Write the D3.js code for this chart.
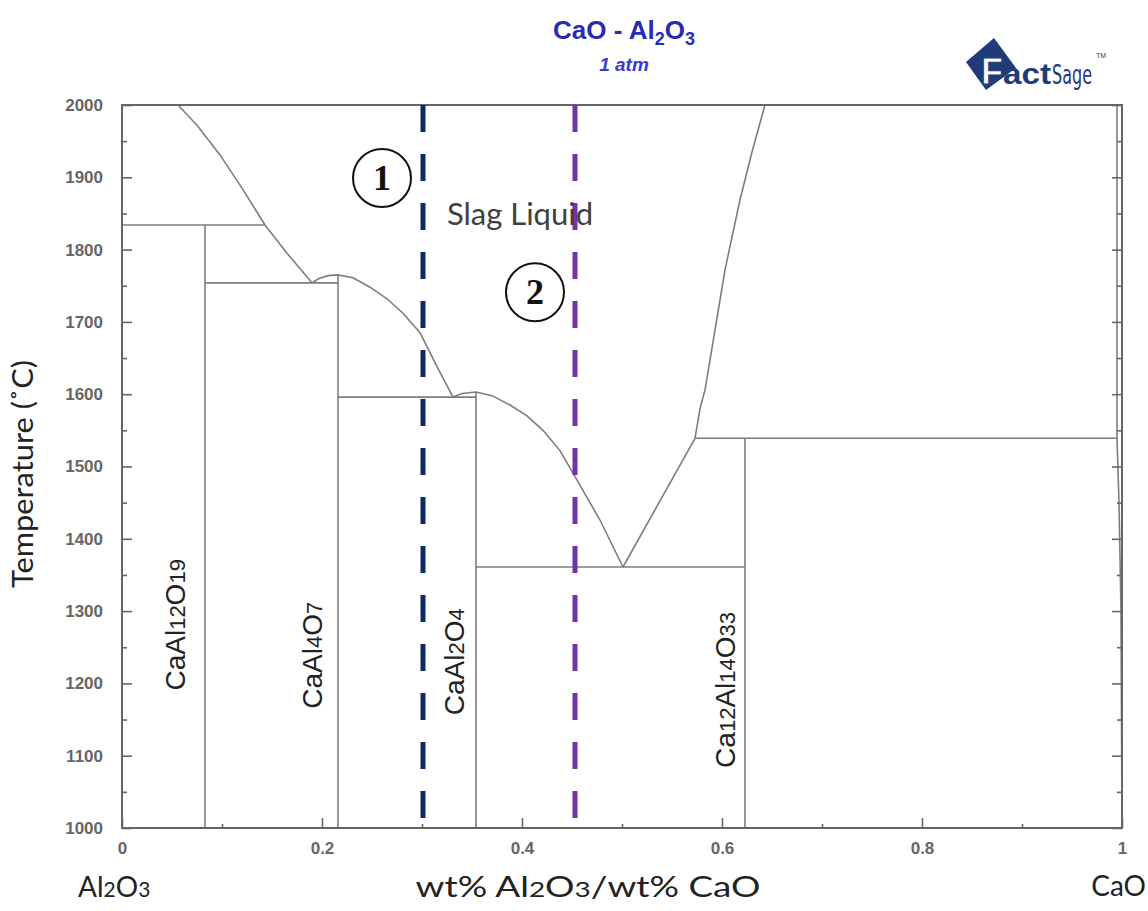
<!DOCTYPE html>
<html>
<head>
<meta charset="utf-8">
<script src="https://cdn.jsdelivr.net/npm/d3@7"></script>
<style>
  body { margin: 0; background: #fff; }
  svg { display: block; }
</style>
</head>
<body>
<svg id="chart" width="1148" height="911"></svg>
<script>
// axis ticks
var xMajor = [0, 0.2, 0.4, 0.6, 0.8, 1];
var xMinor = [0.1, 0.3, 0.5, 0.7, 0.9];
var yMajor = [1000, 1100, 1200, 1300, 1400, 1500, 1600, 1700, 1800, 1900, 2000];
var yMinor = [1050, 1150, 1250, 1350, 1450, 1550, 1650, 1750, 1850, 1950];

// liquidus branches [x, T]
var liqCA6 = [[0.056, 2000], [0.075, 1972], [0.098, 1931], [0.12, 1885], [0.143, 1834], [0.165, 1795], [0.19, 1754]];
var liqCA2 = [[0.19, 1754], [0.197, 1760], [0.206, 1764], [0.216, 1765], [0.231, 1761], [0.248, 1748],
              [0.265, 1732], [0.281, 1712], [0.298, 1685], [0.315, 1638], [0.331, 1596]];
var liqCA = [[0.331, 1596], [0.34, 1601], [0.354, 1603], [0.37, 1598], [0.388, 1585], [0.405, 1570],
             [0.421, 1550], [0.438, 1522], [0.453, 1486], [0.478, 1426], [0.501, 1361]];
var liqC12 = [[0.501, 1361], [0.573, 1539]];
var liqC = [[0.573, 1539], [0.578, 1580], [0.583, 1606], [0.593, 1689], [0.603, 1772], [0.618, 1869],
            [0.630, 1935], [0.643, 2000]];
var liqCaO = [[0.995, 2000], [0.995, 1539], [0.997, 1450], [0.999, 1300], [1.0, 1000]];

// invariant lines: [T, x1, x2]
var horizLines = [[1834, 0, 0.143], [1754, 0.083, 0.216], [1596, 0.216, 0.354],
                  [1361, 0.354, 0.623], [1539, 0.573, 0.995]];
// compound lines: [x, Ttop]
var vertLines = [[0.083, 1834], [0.216, 1765], [0.354, 1603], [0.623, 1539]];

// compound names, subscript parts flagged with 1
var compounds = [
  { x: 0.063, T: 1281, parts: [["CaAl", 0], ["12", 1], ["O", 0], ["19", 1]] },
  { x: 0.200, T: 1239, parts: [["CaAl", 0], ["4", 1], ["O", 0], ["7", 1]] },
  { x: 0.342, T: 1230, parts: [["CaAl", 0], ["2", 1], ["O", 0], ["4", 1]] },
  { x: 0.613, T: 1191, parts: [["Ca", 0], ["12", 1], ["Al", 0], ["14", 1], ["O", 0], ["33", 1]] }
];

// studied compositions
var sections = [{ x: 0.301, color: "#0d2a66", label: "1", lx: 0.26, lT: 1899 },
                { x: 0.453, color: "#7332a6", label: "2", lx: 0.413, lT: 1741 }];

var svg = d3.select("#chart");
var margin = { left: 122, right: 26, top: 105, bottom: 83 };
var W = 1148, H = 911;

var x = d3.scaleLinear().domain([0, 1]).range([margin.left, W - margin.right]);
var y = d3.scaleLinear().domain([1000, 2000]).range([H - margin.bottom, margin.top]);

svg.append("rect").attr("width", W).attr("height", H).attr("fill", "#fff");

var lineGray = "#7d7d7d";
var line = d3.line().x(function (d) { return x(d[0]); }).y(function (d) { return y(d[1]); });

// phase boundaries
var g = svg.append("g").attr("fill", "none").attr("stroke", lineGray).attr("stroke-width", 1.6);
[liqCA6, liqCA2, liqCA, liqC12, liqC, liqCaO].forEach(function (pts) {
  g.append("path").attr("d", line(pts));
});
horizLines.forEach(function (h) {
  g.append("line").attr("x1", x(h[1])).attr("x2", x(h[2])).attr("y1", y(h[0])).attr("y2", y(h[0]));
});
vertLines.forEach(function (v) {
  g.append("line").attr("x1", x(v[0])).attr("x2", x(v[0])).attr("y1", y(v[1])).attr("y2", y(1000));
});

// axes, ticks drawn inward
var axisFont = "Liberation Sans, Arial, sans-serif";
function styleAxis(sel) {
  sel.select(".domain").remove();
  sel.selectAll("line").attr("stroke", "#666").attr("stroke-width", 1.6);
  sel.selectAll("text").attr("fill", "#666").attr("font-size", 17)
    .attr("font-family", axisFont).attr("font-weight", "bold");
}

svg.append("g").attr("transform", "translate(" + margin.left + ",0)")
  .call(d3.axisLeft(y).tickValues(yMajor).tickSize(-10).tickPadding(19).tickFormat(d3.format("d")))
  .call(styleAxis);
svg.append("g").attr("transform", "translate(" + margin.left + ",0)")
  .call(d3.axisLeft(y).tickValues(yMinor).tickSize(-5).tickFormat(""))
  .call(styleAxis);
svg.append("g").attr("transform", "translate(" + (W - margin.right) + ",0)")
  .call(d3.axisRight(y).tickValues(yMajor).tickSize(-10).tickFormat(""))
  .call(styleAxis);
svg.append("g").attr("transform", "translate(" + (W - margin.right) + ",0)")
  .call(d3.axisRight(y).tickValues(yMinor).tickSize(-5).tickFormat(""))
  .call(styleAxis);
svg.append("g").attr("transform", "translate(0," + (H - margin.bottom) + ")")
  .call(d3.axisBottom(x).tickValues(xMajor).tickSize(-10).tickPadding(14).tickFormat(d3.format("~g")))
  .call(styleAxis);
svg.append("g").attr("transform", "translate(0," + (H - margin.bottom) + ")")
  .call(d3.axisBottom(x).tickValues(xMinor).tickSize(-4).tickFormat(""))
  .call(styleAxis);

// frame
svg.append("rect")
  .attr("x", x(0)).attr("y", y(2000))
  .attr("width", x(1) - x(0)).attr("height", y(1000) - y(2000))
  .attr("fill", "none").attr("stroke", "#666").attr("stroke-width", 2);

// dashed composition lines with circled numbers
sections.forEach(function (s) {
  svg.append("line")
    .attr("x1", x(s.x)).attr("x2", x(s.x)).attr("y1", y(2000)).attr("y2", y(1000))
    .attr("stroke", s.color).attr("stroke-width", 5).attr("stroke-dasharray", "27,22");
  svg.append("circle").attr("cx", x(s.lx)).attr("cy", y(s.lT)).attr("r", 29)
    .attr("fill", "#fff").attr("stroke", "#111").attr("stroke-width", 2);
  svg.append("text").attr("x", x(s.lx)).attr("y", y(s.lT) + 12)
    .attr("text-anchor", "middle").attr("font-family", "Liberation Serif, Times New Roman, serif")
    .attr("font-weight", "bold").attr("font-size", 36).attr("fill", "#111").text(s.label);
});

// region label
var labelFont = "Lato, Open Sans, sans-serif";
svg.append("text").attr("x", 520).attr("y", 225)
  .attr("text-anchor", "middle").attr("font-family", labelFont)
  .attr("font-size", 31).attr("fill", "#404040").text("Slag Liquid");

// compound labels, rotated
compounds.forEach(function (c) {
  var t = svg.append("text")
    .attr("transform", "translate(" + x(c.x) + "," + y(c.T) + ") rotate(-90)")
    .attr("text-anchor", "middle").attr("font-family", axisFont)
    .attr("font-size", 28).attr("fill", "#222");
  c.parts.forEach(function (p) {
    t.append("tspan").attr("font-size", p[1] ? 22 : 28).text(p[0]);
  });
});

// axis titles
svg.append("text")
  .attr("transform", "translate(33,474) rotate(-90)")
  .attr("text-anchor", "middle").attr("font-family", labelFont)
  .attr("font-size", 28).attr("textLength", 228).attr("lengthAdjust", "spacingAndGlyphs")
  .attr("fill", "#222").text("Temperature (˚C)");

var xt = svg.append("text").attr("x", 588).attr("y", 897).attr("text-anchor", "middle")
  .attr("font-family", labelFont).attr("font-size", 29).attr("fill", "#222")
  .attr("textLength", 345).attr("lengthAdjust", "spacingAndGlyphs");
xt.append("tspan").text("wt% Al");
xt.append("tspan").attr("font-size", 22).text("2");
xt.append("tspan").text("O");
xt.append("tspan").attr("font-size", 22).text("3");
xt.append("tspan").text("/wt% CaO");

var al = svg.append("text").attr("x", 78).attr("y", 897)
  .attr("font-family", labelFont).attr("font-size", 28).attr("fill", "#222");
al.append("tspan").text("Al");
al.append("tspan").attr("font-size", 21).text("2");
al.append("tspan").text("O");
al.append("tspan").attr("font-size", 21).text("3");

svg.append("text").attr("x", 1146).attr("y", 896).attr("text-anchor", "end")
  .attr("font-family", labelFont).attr("font-size", 28).attr("fill", "#222").text("CaO");

// title
var title = svg.append("text").attr("x", 624).attr("y", 39).attr("text-anchor", "middle")
  .attr("font-family", axisFont).attr("font-weight", "bold").attr("font-size", 26).attr("fill", "#2a2ab5");
title.append("tspan").text("CaO - Al");
title.append("tspan").attr("font-size", 18).attr("dy", 6).text("2");
title.append("tspan").attr("dy", -6).text("O");
title.append("tspan").attr("font-size", 18).attr("dy", 6).text("3");
svg.append("text").attr("x", 624).attr("y", 71).attr("text-anchor", "middle")
  .attr("font-family", axisFont).attr("font-weight", "bold").attr("font-style", "italic")
  .attr("font-size", 19).attr("fill", "#3a3acc").text("1 atm");

// FactSage logo
var navy = "#1f3b78";
var logo = svg.append("g");
logo.append("polygon")
  .attr("points", "966,62 994,38 1016,68 986,90")
  .attr("fill", navy);
logo.append("text").attr("x", 981).attr("y", 84)
  .attr("font-family", axisFont).attr("font-weight", "bold").attr("font-size", 36)
  .attr("fill", "#fff").attr("stroke", navy).attr("stroke-width", 1).text("F");
logo.append("text").attr("x", 1003).attr("y", 84)
  .attr("font-family", axisFont).attr("font-weight", "bold").attr("font-size", 29)
  .attr("textLength", 48).attr("lengthAdjust", "spacingAndGlyphs")
  .attr("fill", navy).text("act");
logo.append("text").attr("x", 1052).attr("y", 84)
  .attr("font-family", "DejaVu Sans Condensed, Liberation Sans Narrow, sans-serif").attr("font-size", 27)
  .attr("textLength", 40).attr("lengthAdjust", "spacingAndGlyphs")
  .attr("fill", navy).text("Sage");
logo.append("text").attr("x", 1096).attr("y", 58)
  .attr("font-family", axisFont).attr("font-size", 7).attr("fill", navy).text("TM");
</script>
</body>
</html>
